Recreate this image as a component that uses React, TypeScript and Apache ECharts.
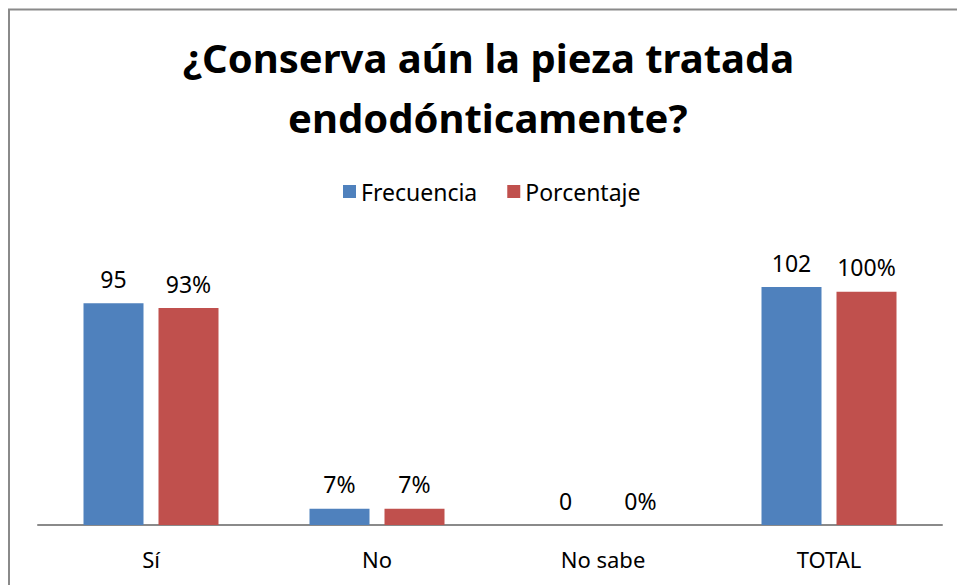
import React, { useEffect, useRef } from "react";
import * as echarts from "echarts";

const categories = ["Sí", "No", "No sabe", "TOTAL"];
const frecuencia = [95, 7, 0, 102];
const porcentaje = [93, 7, 0, 100];
const frecuenciaLabels = ["95", "7%", "0", "102"];
const porcentajeLabels = ["93%", "7%", "0%", "100%"];
const titleLines = ["¿Conserva aún la pieza tratada", "endodónticamente?"];

const FONT = "'Noto Sans', 'Open Sans', sans-serif";

export default function App() {
  const ref = useRef<HTMLDivElement>(null);
  useEffect(() => {
    if (!ref.current) return;
    const chart = echarts.init(ref.current, undefined, { renderer: "svg" });
    const titleStyle = {
      fontFamily: FONT,
      fontWeight: "bold",
      fontSize: 40,
      lineHeight: 58,
      color: "#000000",
    };
    chart.setOption({
      animation: false,
      backgroundColor: "#ffffff",
      textStyle: { fontFamily: FONT },
      title: [
        { text: titleLines[0], left: 183, top: 28, padding: 0, textStyle: titleStyle },
        { text: titleLines[1], left: 288, top: 88, padding: 0, textStyle: titleStyle },
      ],
      legend: {
        top: 175,
        left: 338,
        itemWidth: 13,
        itemHeight: 13,
        itemGap: 30,
        icon: "rect",
        textStyle: { fontFamily: FONT, fontSize: 23, color: "#000000", padding: [0, 0, 0, 0] },
        data: ["Frecuencia", "Porcentaje"],
      },
      graphic: [
        {
          type: "rect",
          shape: { x: 9, y: 9.5, width: 960, height: 600 },
          style: { fill: "none", stroke: "#8a8a8a", lineWidth: 2 },
          silent: true,
        },
      ],
      grid: { left: 38, right: 15, top: 245, bottom: 60 },
      xAxis: {
        type: "category",
        data: categories,
        axisLine: { lineStyle: { color: "#8a8a8a", width: 2 } },
        axisTick: { show: false },
        axisLabel: { fontFamily: FONT, fontSize: 22, color: "#000000", margin: 23 },
      },
      yAxis: {
        type: "value",
        min: 0,
        max: 120,
        show: false,
        splitLine: { show: false },
      },
      series: [
        {
          name: "Frecuencia",
          type: "bar",
          data: frecuencia,
          barWidth: 60,
          barGap: "25%",
          itemStyle: { color: "#4f81bd" },
          label: {
            show: true,
            position: "top",
            distance: 13,
            fontFamily: FONT,
            fontSize: 23,
            color: "#000000",
            formatter: (p: any) => frecuenciaLabels[p.dataIndex],
          },
        },
        {
          name: "Porcentaje",
          type: "bar",
          data: porcentaje,
          barWidth: 60,
          barGap: "25%",
          itemStyle: { color: "#c0504d" },
          label: {
            show: true,
            position: "top",
            distance: 13,
            fontFamily: FONT,
            fontSize: 23,
            color: "#000000",
            formatter: (p: any) => porcentajeLabels[p.dataIndex],
          },
        },
      ],
    });
    return () => chart.dispose();
  }, []);
  return (
    <div
      ref={ref}
      style={{ position: "absolute", left: 0, top: 0, width: 957, height: 585 }}
    />
  );
}
